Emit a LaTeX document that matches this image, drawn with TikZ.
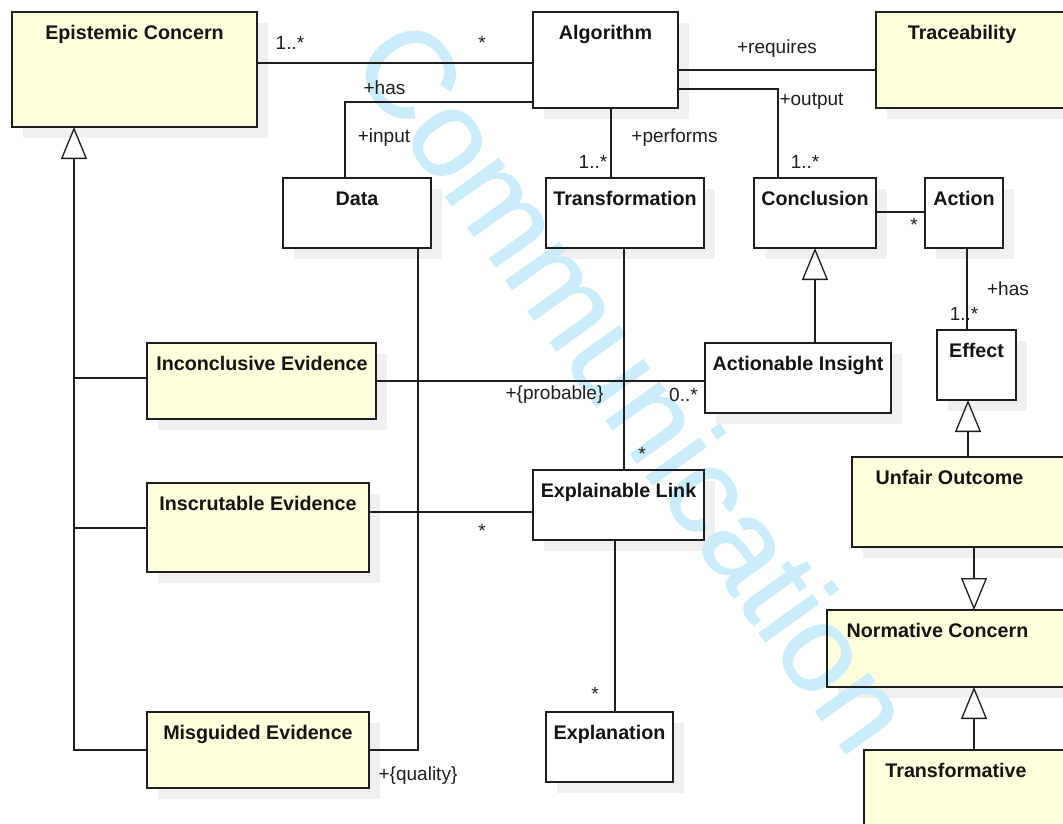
\documentclass[tikz,border=0pt]{standalone}
\usepackage{fontspec}
\setmainfont{Liberation Sans}
\newfontfamily\wmfont[FakeBold=0.8]{Liberation Sans}
\usetikzlibrary{arrows.meta,calc}
\definecolor{umlyellow}{RGB}{255,255,221}
\definecolor{shadowgray}{RGB}{240,240,240}
\definecolor{wmblue}{RGB}{202,236,251}
\definecolor{ink}{RGB}{30,30,30}
\tikzset{
  boxborder/.style={draw=ink, line width=1.5pt},
  titletext/.style={font=\fontsize{19.7}{23}\selectfont\bfseries, anchor=base, inner sep=0, text=black!92},
  lbl/.style={font=\fontsize{19}{22}\selectfont, anchor=base, inner sep=0, text=ink},
  conn/.style={draw=ink, line width=1.3pt},
  gen/.style={conn, line join=miter, -{Triangle[open, length=32pt, width=26pt]}},
}
\newcommand\umlbox[6]{%
  \fill[shadowgray] (#2+11,#3+11) rectangle (#4+11,#5+11);
  \node[fill=#6, inner sep=0, outer sep=0, minimum width={(#4-#2)*1pt}, minimum height={(#5-#3)*1pt}] (#1) at ({(#2+#4)/2},{(#3+#5)/2}) {};
}
\begin{document}
\begin{tikzpicture}[x=1pt,y=-1pt]
\useasboundingbox (0,0) rectangle (1063,823);
\clip (0,0) rectangle (1063,823);
\fill[white] (0,0) rectangle (1063,823);
% boxes (shadow + fill)
\umlbox{ec}{12}{12}{257}{127}{umlyellow}
\umlbox{alg}{533}{12}{678}{108}{white}
\umlbox{trace}{876}{12}{1080}{108}{umlyellow}
\umlbox{data}{283}{178}{431}{248}{white}
\umlbox{trans}{546}{178}{704}{248}{white}
\umlbox{concl}{754}{178}{876}{248}{white}
\umlbox{action}{925}{178}{1003}{248}{white}
\umlbox{incon}{147}{343}{376}{419}{umlyellow}
\umlbox{inscr}{147}{483}{369}{572}{umlyellow}
\umlbox{misg}{147}{712}{369}{788}{umlyellow}
\umlbox{insight}{705}{343}{891}{413}{white}
\umlbox{effect}{937}{330}{1016}{400}{white}
\umlbox{elink}{533}{470}{704}{540}{white}
\umlbox{unfair}{852}{457}{1080}{547}{umlyellow}
\umlbox{norm}{827}{610}{1080}{687}{umlyellow}
\umlbox{transf}{864}{750}{1080}{850}{umlyellow}
\umlbox{expl}{546}{712}{673}{782}{white}
% watermark
\node[rotate=-54.3, anchor=base west, text=wmblue, inner sep=0, font=\wmfont\fontsize{124}{124}\selectfont] (wm) at (348,61) {Communication};
% connectors
\coordinate (trunk) at (74,750);
\draw[conn] (ec.east |- 0,63) -- (alg.west |- 0,63);
\draw[conn] (alg.west |- 0,102) -| (data.north -| 345,0);
\draw[conn] (alg.east |- 0,70) -- (trace.west |- 0,70);
\draw[conn] (alg.east |- 0,89) -| (concl.north -| 778,0);
\draw[conn] (alg.south -| 611,0) -- (trans.north -| 611,0);
\draw[conn] (concl.east |- 0,212) -- (action.west |- 0,212);
\draw[conn] (action.south -| 967,0) -- (effect.north -| 967,0);
\draw[gen] (insight.north -| concl.south) -- (concl.south);
\draw[gen] (unfair.north -| 968,0) -- (effect.south -| 968,0);
\draw[gen] (unfair.south -| 974,0) -- (norm.north -| 974,0);
\draw[gen] (transf.north -| 974,0) -- (norm.south -| 974,0);
\draw[gen] (misg.west) -- (trunk) -- (ec.south -| trunk);
\draw[conn] (incon.west |- 0,378) -- (trunk |- 0,378);
\draw[conn] (inscr.west |- 0,528) -- (trunk |- 0,528);
\draw[conn] (data.south -| 418,0) |- (misg.east);
\draw[conn] (incon.east) -- (insight.west |- incon.east);
\draw[conn] (trans.south -| 624,0) -- (elink.north -| 624,0);
\draw[conn] (inscr.east |- 0,512) -- (elink.west |- 0,512);
\draw[conn] (elink.south -| 615,0) -- (expl.north -| 615,0);
% borders
\foreach \n in {ec,alg,trace,data,trans,concl,action,incon,inscr,misg,insight,effect,elink,unfair,norm,transf,expl}
  \draw[boxborder] (\n.north west) rectangle (\n.south east);
% titles
\node[titletext] (ect) at (134.5,39.5) {Epistemic Concern};
\node[titletext] (algt) at (605.5,39.5) {Algorithm};
\node[titletext] (tracet) at (962,39.5) {Traceability};
\node[titletext] (datat) at (357,205) {Data};
\node[titletext] (transt) at (625,205) {Transformation};
\node[titletext] (conclt) at (815,205) {Conclusion};
\node[titletext] (actiont) at (964,205) {Action};
\node[titletext] (incont) at (262,370) {Inconclusive Evidence};
\node[titletext] (inscrt) at (258,510) {Inscrutable Evidence};
\node[titletext] (misgt) at (258,739) {Misguided Evidence};
\node[titletext] (insightt) at (798,370) {Actionable Insight};
\node[titletext] (effectt) at (976.5,357.5) {Effect};
\node[titletext] (elinkt) at (618.5,497) {Explainable Link};
\node[titletext] (unfairt) at (949.5,484) {Unfair Outcome};
\node[titletext] (normt) at (937.5,637) {Normative Concern};
\node[titletext] (transft) at (956,777) {Transformative};
\node[titletext] (explt) at (609.5,739) {Explanation};
% labels
\node[lbl] (l1) at (290,49) {1..*};
\node[lbl] (l2) at (482,49) {*};
\node[lbl] (l3) at (384.5,94) {+has};
\node[lbl] (l4) at (384,142.5) {+input};
\node[lbl] (l5) at (777,53) {+requires};
\node[lbl] (l6) at (811.5,105) {+output};
\node[lbl] (l7) at (674.5,142.5) {+performs};
\node[lbl] (l8) at (593,168) {1..*};
\node[lbl] (l9) at (805,168) {1..*};
\node[lbl] (l10) at (914,231) {*};
\node[lbl] (l11) at (1008,295) {+has};
\node[lbl] (l12) at (964,320) {1..*};
\node[lbl] (l13) at (554.5,399) {+\{probable\}};
\node[lbl] (l14) at (683.5,401) {0..*};
\node[lbl] (l15) at (642,460) {*};
\node[lbl] (l16) at (482,537) {*};
\node[lbl] (l17) at (595,700) {*};
\node[lbl] (l18) at (418,780) {+\{quality\}};
\end{tikzpicture}
\end{document}
